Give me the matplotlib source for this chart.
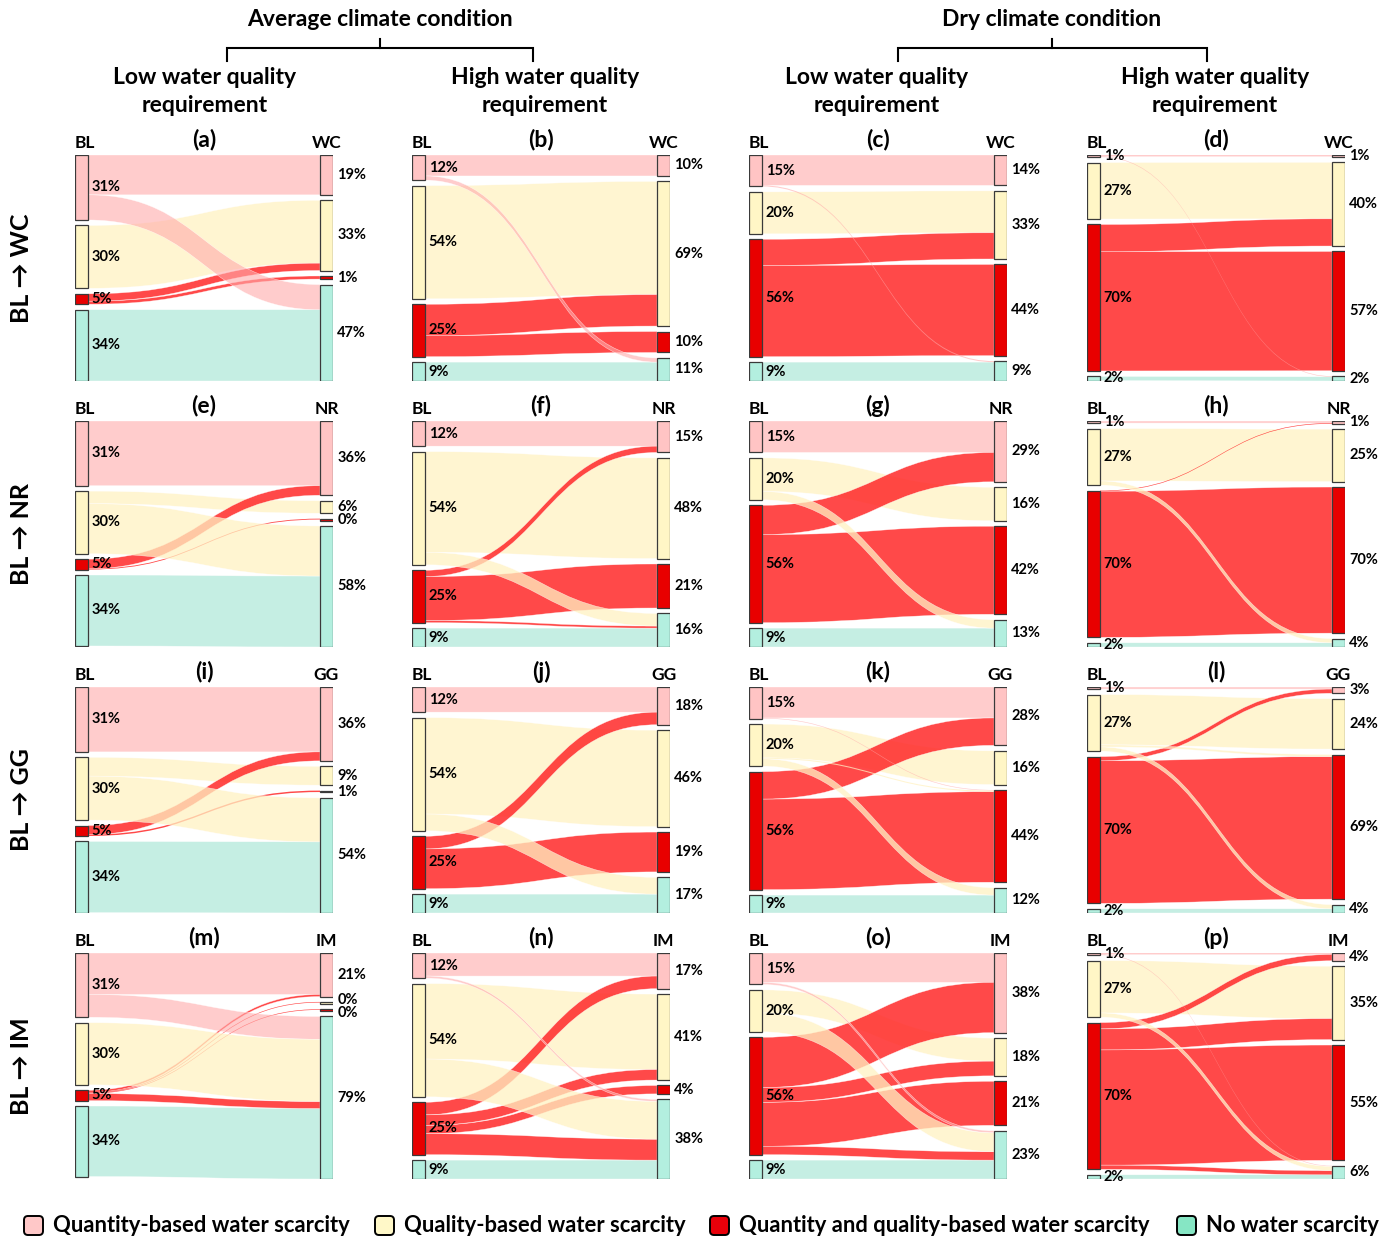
import matplotlib
matplotlib.use('Agg')
import matplotlib.pyplot as plt
from matplotlib.path import Path
from matplotlib.patches import PathPatch, Rectangle, FancyBboxPatch

plt.rcParams['font.family'] = ['Lato', 'DejaVu Sans']

# ---------------- data ----------------
categories = ['Quantity-based water scarcity', 'Quality-based water scarcity',
              'Quantity and quality-based water scarcity', 'No water scarcity']
node_colors = ['#FFC4C4', '#FFF6C6', '#E80000', '#B3EFDF']
flow_colors = [(1.0, 0.67, 0.67, 0.6), (1.0, 0.95, 0.76, 0.75),
               (1.0, 0.16, 0.16, 0.85), (0.59, 0.88, 0.80, 0.55)]
legend_colors = ['#FFC8C8', '#FFF8C8', '#E8000A', '#86E6C4']

scenarios = ['WC', 'NR', 'GG', 'IM']
row_labels = ['BL → WC', 'BL → NR', 'BL → GG', 'BL → IM']
panel_letters = list('abcdefghijklmnop')
conditions = ['Average climate condition', 'Dry climate condition']
requirements = [('Low water quality', 'requirement'), ('High water quality', 'requirement')]

# baseline (BL) shares per column: avg-low, avg-high, dry-low, dry-high
bl_avg_low = [31, 30, 5, 34]
bl_avg_high = [12, 54, 25, 9]
bl_dry_low = [15, 20, 56, 9]
bl_dry_high = [1, 27, 70, 2]
bl_values = [bl_avg_low, bl_avg_high, bl_dry_low, bl_dry_high]

# scenario shares (labels) per column
wc_labels = [[19, 33, 1, 47], [10, 69, 10, 11], [14, 33, 44, 9], [1, 40, 57, 2]]
nr_labels = [[36, 6, 0, 58], [15, 48, 21, 16], [29, 16, 42, 13], [1, 25, 70, 4]]
gg_labels = [[36, 9, 1, 54], [18, 46, 19, 17], [28, 16, 44, 12], [3, 24, 69, 4]]
im_labels = [[21, 0, 0, 79], [17, 41, 4, 38], [38, 18, 21, 23], [4, 35, 55, 6]]
scenario_labels = [wc_labels, nr_labels, gg_labels, im_labels]

# flows (source category, target category, share %) ; 0=quantity,1=quality,2=both,3=none
flows_wc = [
    [(0, 0, 19), (0, 3, 12), (1, 1, 30), (2, 1, 3.5), (2, 2, 1.5), (3, 3, 34)],
    [(0, 0, 10), (0, 3, 2), (1, 1, 54), (2, 1, 15), (2, 2, 10), (3, 3, 9)],
    [(0, 0, 14.5), (0, 3, 0.5), (1, 1, 20), (2, 1, 12.5), (2, 2, 43.5), (3, 3, 9)],
    [(0, 0, 0.7), (0, 3, 0.3), (1, 1, 27), (2, 1, 13), (2, 2, 57), (3, 3, 2)],
]
flows_nr = [
    [(0, 0, 31), (1, 1, 6), (1, 3, 24), (2, 0, 4.6), (2, 2, 0.4), (3, 3, 34)],
    [(0, 0, 12), (1, 1, 48), (1, 3, 6), (2, 0, 3), (2, 2, 21), (2, 3, 1), (3, 3, 9)],
    [(0, 0, 15), (1, 1, 16), (1, 3, 4), (2, 0, 14), (2, 2, 42), (3, 3, 9)],
    [(0, 0, 1), (1, 1, 25), (1, 3, 2), (2, 0, 0.3), (2, 2, 69.7), (3, 3, 2)],
]
flows_gg = [
    [(0, 0, 31), (1, 1, 9), (1, 3, 21), (2, 0, 4.3), (2, 2, 0.7), (3, 3, 34)],
    [(0, 0, 12), (1, 1, 46), (1, 3, 8), (2, 0, 6), (2, 2, 19), (3, 3, 9)],
    [(0, 0, 14.7), (0, 2, 0.3), (1, 1, 16), (1, 2, 0.5), (1, 3, 3.5), (2, 0, 13), (2, 2, 43), (3, 3, 8.5)],
    [(0, 0, 1), (1, 1, 24), (1, 2, 1), (1, 3, 2), (2, 0, 2), (2, 2, 68), (3, 3, 2)],
]
flows_im = [
    [(0, 0, 20), (0, 3, 11), (1, 3, 30), (2, 0, 1), (2, 1, 0.3), (2, 2, 0.3), (2, 3, 3.4), (3, 3, 34)],
    [(0, 0, 11), (0, 3, 1), (1, 1, 36), (1, 3, 18), (2, 0, 6), (2, 1, 5), (2, 2, 4), (2, 3, 10), (3, 3, 9)],
    [(0, 0, 14), (0, 3, 1), (1, 1, 11), (1, 3, 9), (2, 0, 24), (2, 1, 7), (2, 2, 21), (2, 3, 4), (3, 3, 9)],
    [(0, 0, 0.7), (0, 3, 0.3), (1, 1, 25), (1, 3, 2), (2, 0, 3), (2, 1, 10), (2, 2, 55), (2, 3, 2), (3, 3, 2)],
]
flows_all = [flows_wc, flows_nr, flows_gg, flows_im]

# ---------------- layout ----------------
W, H = 1388, 1239
fig = plt.figure(figsize=(W / 100, H / 100), dpi=100)

bg = fig.add_axes([0, 0, 1, 1])
bg.set_xlim(0, W)
bg.set_ylim(H, 0)
bg.axis('off')

col_left = [75, 412, 749, 1087]
panel_w = 258
row_top = [155, 421, 687, 953]
panel_h = 226
node_w = 13 / panel_w
gap = 2.6
min_h = 0.9


def add_panel(x, y, w, h):
    return fig.add_axes([x / W, 1 - (y + h) / H, w / W, h / H])


def stack(values):
    heights = [max(v, min_h) for v in values]
    tops = []
    cur = 0.0
    for hh in heights:
        tops.append(cur)
        cur += hh + gap
    return tops, heights, cur - gap


def spread(centers, min_sep):
    c = list(centers)
    for _ in range(10):
        for i in range(1, len(c)):
            d = c[i] - c[i - 1]
            if d < min_sep:
                shift = (min_sep - d) / 2
                c[i - 1] -= shift
                c[i] += shift
    return c


def ribbon(ax, s0, s1, t0, t1, color, z):
    x0, x1, xm = node_w, 1 - node_w, 0.5
    verts = [(x0, s0), (xm, s0), (xm, t0), (x1, t0),
             (x1, t1), (xm, t1), (xm, s1), (x0, s1), (x0, s0)]
    codes = [Path.MOVETO, Path.CURVE4, Path.CURVE4, Path.CURVE4,
             Path.LINETO, Path.CURVE4, Path.CURVE4, Path.CURVE4, Path.CLOSEPOLY]
    thick = (s1 - s0) >= 1.0
    ax.add_patch(PathPatch(Path(verts, codes), facecolor=color,
                           edgecolor=(1, 1, 1, 0.7) if thick else 'none',
                           lw=0.35 if thick else 0, zorder=z))


for r in range(4):
    for c in range(4):
        flows = flows_all[r][c]
        ax = add_panel(col_left[c], row_top[r], panel_w, panel_h)
        ax.axis('off')
        ax.set_xlim(0, 1)
        out_v = [sum(f[2] for f in flows if f[0] == i) for i in range(4)]
        in_v = [sum(f[2] for f in flows if f[1] == j) for j in range(4)]
        ltop, lh, ltot = stack(out_v)
        rtop, rh, rtot = stack(in_v)
        T = max(ltot, rtot)
        ax.set_ylim(T, 0)
        units_per_px = T / panel_h

        s_off = {}
        for i in range(4):
            cur = ltop[i]
            for f in sorted([f for f in flows if f[0] == i], key=lambda f: f[1]):
                s_off[(f[0], f[1])] = (cur, cur + f[2])
                cur += f[2]
        t_off = {}
        for j in range(4):
            cur = rtop[j]
            for f in sorted([f for f in flows if f[1] == j], key=lambda f: f[0]):
                t_off[(f[0], f[1])] = (cur, cur + f[2])
                cur += f[2]

        for f in flows:
            si, tj, v = f
            if si == tj:
                z = 1
            elif si == 2:
                z = 2
            else:
                z = 3
            s0, s1 = s_off[(si, tj)]
            t0, t1 = t_off[(si, tj)]
            ribbon(ax, s0, s1, t0, t1, flow_colors[si], z)

        left_lbl = bl_values[c]
        right_lbl = scenario_labels[r][c]
        lc = spread([ltop[i] + lh[i] / 2 for i in range(4)], 12.5 * units_per_px)
        rc = spread([rtop[i] + rh[i] / 2 for i in range(4)], 12.5 * units_per_px)
        for i in range(4):
            ax.add_patch(Rectangle((0, ltop[i]), node_w, lh[i], facecolor=node_colors[i],
                                   edgecolor='#3a3a3a', lw=0.9, zorder=5))
            ax.text(node_w + 0.014, lc[i], f'{left_lbl[i]}%', ha='left',
                    va='center', fontsize=10.5, fontweight='bold', zorder=6, clip_on=False)
            ax.add_patch(Rectangle((1 - node_w, rtop[i]), node_w, rh[i], facecolor=node_colors[i],
                                   edgecolor='#3a3a3a', lw=0.9, zorder=5))
            ax.text(1 + 0.016, rc[i], f'{right_lbl[i]}%', ha='left',
                    va='center', fontsize=10.5, fontweight='bold', zorder=6, clip_on=False)

        ax.annotate('BL', xy=(0, 1), xycoords='axes fraction', xytext=(0, 9),
                    textcoords='offset points', ha='left', va='center',
                    fontsize=12.5, fontweight='bold')
        ax.annotate(scenarios[r], xy=(1 - node_w / 2, 1), xycoords='axes fraction',
                    xytext=(0, 9), textcoords='offset points', ha='center', va='center',
                    fontsize=12.5, fontweight='bold')
        ax.annotate(f'({panel_letters[r * 4 + c]})', xy=(0.5, 1), xycoords='axes fraction',
                    xytext=(0, 11), textcoords='offset points', ha='center', va='center',
                    fontsize=16.5, fontweight='bold')

    fig.text(22 / W, 1 - (row_top[r] + panel_h / 2) / H, row_labels[r], rotation=90,
             ha='center', va='center', fontsize=18, fontweight='bold')

# headers and brackets
head_x = [380, 1052]
bracket = [(227, 533), (898, 1207)]
sub_x = [205, 545, 877, 1215]
for k in range(2):
    bg.text(head_x[k], 19, conditions[k], ha='center', va='center',
            fontsize=16.5, fontweight='bold')
    xa, xb = bracket[k]
    bg.plot([xa, xa, xb, xb], [61, 48, 48, 61], color='black', lw=1.5,
            solid_joinstyle='miter')
    bg.plot([head_x[k], head_x[k]], [48, 39], color='black', lw=1.5)
for c in range(4):
    l1, l2 = requirements[c % 2]
    bg.text(sub_x[c], 77, l1, ha='center', va='center', fontsize=16.5, fontweight='bold')
    bg.text(sub_x[c], 106, l2, ha='center', va='center', fontsize=16.5, fontweight='bold')

# legend
leg_x = [22, 373, 708, 1175]
for k in range(4):
    bg.add_patch(FancyBboxPatch((leg_x[k] + 2, 1216), 19, 19,
                                boxstyle='round,pad=0,rounding_size=4',
                                facecolor=legend_colors[k], edgecolor='black', lw=1.4))
    bg.text(leg_x[k] + 31, 1226, categories[k], ha='left', va='center',
            fontsize=15.8, fontweight='bold')

fig.savefig('out.png', dpi=100)
